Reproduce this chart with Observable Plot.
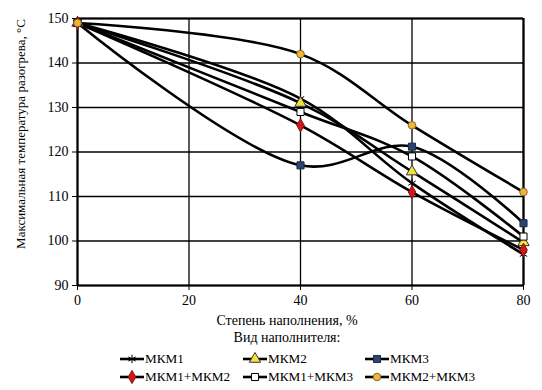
<!DOCTYPE html>
<html><head><meta charset="utf-8">
<script src="https://cdn.jsdelivr.net/npm/d3@7"></script>
<script src="https://cdn.jsdelivr.net/npm/@observablehq/plot@0.6"></script>
<style>
body{margin:0;background:#fff;font-family:"Liberation Serif","Tinos","Times New Roman","Noto Serif","DejaVu Serif",serif;color:#000;}
#wrap{position:relative;width:542px;height:390px;overflow:hidden;}
.lbl{position:absolute;font-size:14px;white-space:nowrap;}
#ylab{position:absolute;left:21px;top:134px;font-size:13px;white-space:nowrap;transform:translate(-50%,-50%) rotate(-90deg);}
.leg{position:absolute;display:flex;align-items:center;font-size:13.2px;white-space:nowrap;}
svg text{font-family:"Liberation Serif","Tinos","Times New Roman","Noto Serif","DejaVu Serif",serif;}
</style></head><body><div id="wrap"></div>
<script>
const fillLevels = [0, 40, 60, 80];
const seriesNames = ["МКМ1", "МКМ2", "МКМ3", "МКМ1+МКМ2", "МКМ1+МКМ3", "МКМ2+МКМ3"];
const mkm1 = [149, 132, 113, 97];
const mkm2 = [149, 131, 115.6, 99.7];
const mkm3 = [149, 117, 121.2, 104];
const mkm12 = [149, 126, 111, 98];
const mkm13 = [149, 129, 119, 101];
const mkm23 = [149, 142, 126, 111];
const xTicks = [0, 20, 40, 60, 80];
const yTicks = [90, 100, 110, 120, 130, 140, 150];
const xTitle = "Степень наполнения, %";
const yTitle = "Максимальная температура разогрева, °С";
const legendTitle = "Вид наполнителя:";

const allValues = [mkm1, mkm2, mkm3, mkm12, mkm13, mkm23];
const styles = [
  {symbol: "asterisk", fill: "none", stroke: "#000", r: 4},
  {symbol: "triangle", fill: "#F2E23A", stroke: "#333", r: 4.2},
  {symbol: "square", fill: "#2B4470", stroke: "#1a2a48", r: 4},
  {symbol: "diamond", fill: "#D01818", stroke: "#8a1010", r: 4},
  {symbol: "square", fill: "#fff", stroke: "#000", r: 4},
  {symbol: "circle", fill: "#F0B43C", stroke: "#8a6a20", r: 3.8}
];
const data = seriesNames.flatMap((s, i) => fillLevels.map((x, j) => ({s, i, x, y: allValues[i][j]})));
const serif = '"Liberation Serif","Tinos","Times New Roman","Noto Serif","DejaVu Serif",serif';

const marks = [
  Plot.gridY(yTicks, {stroke: "#000", strokeOpacity: 1, strokeWidth: 1.3}),
  Plot.gridX(xTicks, {stroke: "#000", strokeOpacity: 1, strokeWidth: 1.3}),
  Plot.ruleX([0], {strokeWidth: 2.2}),
  Plot.ruleX([80], {strokeWidth: 2.2}),
  Plot.ruleY([90], {strokeWidth: 2}),
  Plot.ruleY([150], {strokeWidth: 2}),
  Plot.axisX(xTicks, {tickSize: 5, tickPadding: 5, label: null, fontSize: 14, fontFamily: serif}),
  Plot.axisY(yTicks, {tickSize: 5, tickPadding: 4, label: null, fontSize: 14, fontFamily: serif})
];
seriesNames.forEach((s, i) => {
  const d = data.filter(p => p.i === i);
  marks.push(Plot.line(d, {x: "x", y: "y", curve: "catmull-rom", stroke: "#000", strokeWidth: 2.6}));
});
seriesNames.forEach((s, i) => {
  const d = data.filter(p => p.i === i);
  const st = styles[i];
  marks.push(Plot.dot(d, {x: "x", y: "y", symbol: () => st.symbol, fill: st.fill, stroke: st.stroke, r: st.r, strokeWidth: 1}));
});

const chart = Plot.plot({
  width: 542, height: 310,
  marginTop: 18, marginBottom: 25, marginLeft: 77, marginRight: 19,
  style: {fontFamily: serif, fontSize: "14px", color: "#000", background: "#fff", overflow: "visible"},
  x: {domain: [0, 80]},
  y: {domain: [90, 150]},
  symbol: {type: "identity"},
  marks
});
const wrap = document.getElementById("wrap");
wrap.appendChild(chart);

const yl = document.createElement("div"); yl.id = "ylab"; yl.textContent = yTitle; wrap.appendChild(yl);
function centered(text, cx, top) {
  const el = document.createElement("div"); el.className = "lbl"; el.textContent = text;
  el.style.left = cx + "px"; el.style.top = top + "px"; el.style.transform = "translateX(-50%)";
  wrap.appendChild(el);
}
centered(xTitle, 287, 313);
centered(legendTitle, 287, 330);

const colX = [120, 243, 365];
const rowY = [359, 377];
seriesNames.forEach((s, i) => {
  const st = styles[i];
  const el = document.createElement("div"); el.className = "leg";
  el.style.left = colX[i % 3] + "px"; el.style.top = (rowY[Math.floor(i / 3)] - 9) + "px"; el.style.height = "18px";
  const sym = d3.symbol().type(st.symbol === "asterisk" ? d3.symbolAsterisk : st.symbol === "triangle" ? d3.symbolTriangle : st.symbol === "square" ? d3.symbolSquare : st.symbol === "diamond" ? d3.symbolDiamond : d3.symbolCircle).size(st.r * st.r * Math.PI)();
  el.innerHTML = `<svg width="24" height="18" style="display:block"><line x1="0" x2="24" y1="9" y2="9" stroke="#000" stroke-width="2.6"/><path d="${sym}" transform="translate(12,9)" fill="${st.fill}" stroke="${st.stroke}" stroke-width="1"/></svg><span style="margin-left:1px">${s}</span>`;
  wrap.appendChild(el);
});
</script></body></html>
